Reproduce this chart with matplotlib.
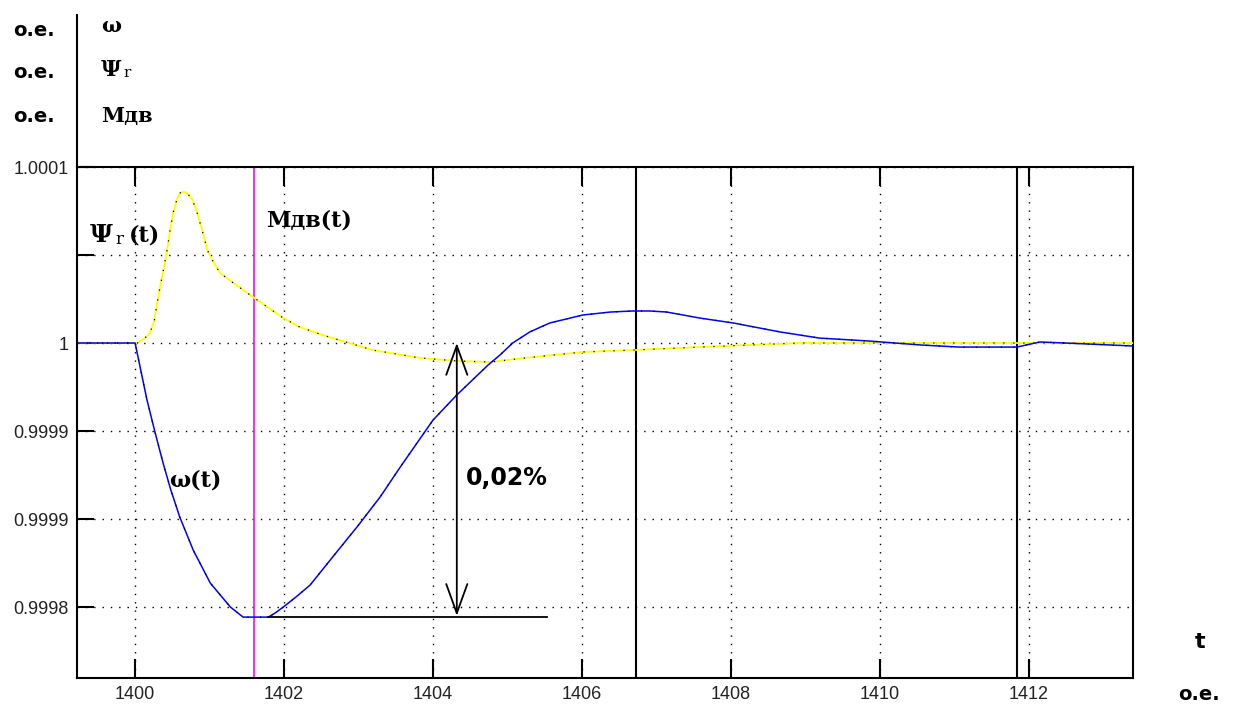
import matplotlib
matplotlib.use('Agg')

import matplotlib.pyplot as plt
from matplotlib.lines import Line2D

W, H = 1253, 707
SERIF = ['DejaVu Serif']
SANS = ['DejaVu Sans']

# omega(t): deviation from 1, in units of 1e-5 o.e.
t_omega = [1399.22, 1400.00, 1400.16, 1400.27, 1400.38, 1400.48, 1400.60, 1400.78,
           1401.01, 1401.28, 1401.45, 1401.79,
           1401.88, 1401.99, 1402.16, 1402.35, 1402.62, 1402.98, 1403.29, 1403.56,
           1404.00, 1404.32, 1404.74, 1404.90, 1405.07, 1405.30, 1405.57, 1406.01,
           1406.38, 1406.68, 1406.91, 1407.14, 1407.58, 1408.03, 1408.66, 1409.19,
           1409.87, 1410.54, 1411.07, 1411.84, 1412.15, 1412.82, 1413.40]
omega_dev = [0.0, 0.0, -3.24, -5.11, -6.88, -8.35, -9.89, -11.76,
             -13.64, -15.0, -15.57, -15.57,
             -15.34, -15.0, -14.43, -13.75, -12.33, -10.45, -8.75, -7.05,
             -4.38, -2.95, -1.25, -0.68, 0.0, 0.63, 1.14, 1.59,
             1.76, 1.82, 1.82, 1.76, 1.42, 1.14, 0.63, 0.28,
             0.11, -0.11, -0.23, -0.23, 0.06, -0.06, -0.17]

# psi_r(t): deviation from 1, in units of 1e-5 o.e.
t_psi = [1399.22, 1400.03, 1400.13, 1400.20, 1400.26, 1400.31, 1400.38, 1400.43,
         1400.47, 1400.51, 1400.56, 1400.60, 1400.64, 1400.70, 1400.77, 1400.83,
         1400.90, 1400.97, 1401.05, 1401.14, 1401.32, 1401.60, 1401.99, 1402.21,
         1402.52, 1403.19, 1403.83, 1404.32, 1404.77, 1405.23, 1406.01, 1406.68,
         1407.58, 1408.26, 1408.93, 1413.40]
psi_dev = [0.0, 0.0, 0.28, 0.57, 1.31, 2.61, 4.15, 5.28,
           6.42, 7.39, 8.13, 8.52, 8.58, 8.52, 8.13, 7.44,
           6.42, 5.28, 4.60, 3.98, 3.41, 2.56, 1.42, 0.91,
           0.45, -0.40, -0.85, -1.02, -1.08, -0.85, -0.51, -0.40,
           -0.23, -0.11, 0.0, 0.0]

t_mdv = 1401.6
t_marks = [1406.72, 1411.84]

x_ticks = [1400, 1402, 1404, 1406, 1408, 1410, 1412]
y_ticks = [1.0001, 1.00005, 1.0, 0.99995, 0.9999, 0.99985]
y_labels = ['1.0001', '', '1', '0.9999', '0.9999', '0.9998']

# 0,02% annotation
t_arrow = 1404.32
arrow_dev = [0.0, -15.5]
t_base = [1401.78, 1405.53]
base_dev = -15.57

omega = [1 + d * 1e-5 for d in omega_dev]
psi = [1 + d * 1e-5 for d in psi_dev]

fig = plt.figure(figsize=(W / 100, H / 100), dpi=100)
ax = fig.add_axes([77 / W, 1 - 678 / H, (1133 - 77) / W, (678 - 167) / H])

ax.set_xlim(1399.22, 1413.40)
ax.set_ylim(1 - 19.03e-5, 1 + 10e-5)

ax.grid(True, color='black', linestyle=(0, (1, 5)), linewidth=1.0)
ax.set_axisbelow(True)

ax.axvline(t_mdv, color='#ff00ff', lw=1.2, zorder=2)
for tm in t_marks:
    ax.axvline(tm, color='black', lw=1.5, zorder=2)

ax.plot(t_psi, psi, color='#ffff00', lw=1.3, zorder=3)
ax.plot(t_psi, psi, color='black', lw=0.9, linestyle=(0, (1, 7)), zorder=4)
ax.plot(t_omega, omega, color='#0000ff', lw=1.1, zorder=3)
ax.plot(t_omega, omega, color='black', lw=0.9, linestyle=(0, (1, 9)), zorder=4)

ax.plot(t_base, [1 + base_dev * 1e-5] * 2, color='black', lw=1.3, zorder=3)
ax.annotate('', xy=(t_arrow, 1 + arrow_dev[0] * 1e-5),
            xytext=(t_arrow, 1 + arrow_dev[1] * 1e-5),
            arrowprops=dict(arrowstyle='<->,head_length=1.05,head_width=0.38',
                            color='black', lw=1.3, shrinkA=0, shrinkB=0,
                            mutation_scale=20), zorder=5)

ax.set_xticks(x_ticks)
ax.set_xticklabels([str(v) for v in x_ticks])
ax.set_yticks(y_ticks)
ax.set_yticklabels(y_labels)
ax.tick_params(axis='x', direction='in', length=14, width=1.5, top=True,
               labelsize=13, pad=6, labelcolor='#222222')
ax.tick_params(axis='y', direction='in', length=12, width=1.5,
               labelsize=13, pad=6, labelcolor='#222222')
for lab in ax.get_xticklabels() + ax.get_yticklabels():
    lab.set_family(['Liberation Sans'])
for s in ax.spines.values():
    s.set_linewidth(1.5)

# left axis extends up to the unit labels
fig.add_artist(Line2D([77 / W, 77 / W], [1 - 167 / H, 1 - 15 / H],
                      transform=fig.transFigure, color='black', lw=1.5))


def ftxt(px, py, s, **kw):
    fig.text(px / W, 1 - py / H, s, va='center', **kw)


for py in [30, 72, 116]:
    ftxt(13, py, 'o.e.', family=SANS, fontweight='bold', fontsize=14)
ftxt(101, 26, 'ω', family=SERIF, fontweight='bold', fontsize=15)
ftxt(101, 70, 'Ψ', family=SERIF, fontweight='bold', fontsize=16)
ftxt(123, 73, 'r', family=SERIF, fontsize=11)
ftxt(101, 116, 'Мдв', family=SERIF, fontweight='bold', fontsize=15)

ftxt(90, 235, 'Ψ', family=SERIF, fontweight='bold', fontsize=18)
ftxt(115, 239, 'r', family=SERIF, fontsize=12)
ftxt(129, 235, '(t)', family=SERIF, fontweight='bold', fontsize=16)
ftxt(266, 220, 'Мдв(t)', family=SERIF, fontweight='bold', fontsize=16)
ftxt(169, 480, 'ω(t)', family=SERIF, fontweight='bold', fontsize=16)
ftxt(466, 478, '0,02%', family=SANS, fontweight='bold', fontsize=17)

ftxt(1195, 642, 't', family=SANS, fontweight='bold', fontsize=16)
ftxt(1178, 695, 'o.e.', family=SANS, fontweight='bold', fontsize=14)

fig.savefig('out.png', dpi=100)
plt.close()
